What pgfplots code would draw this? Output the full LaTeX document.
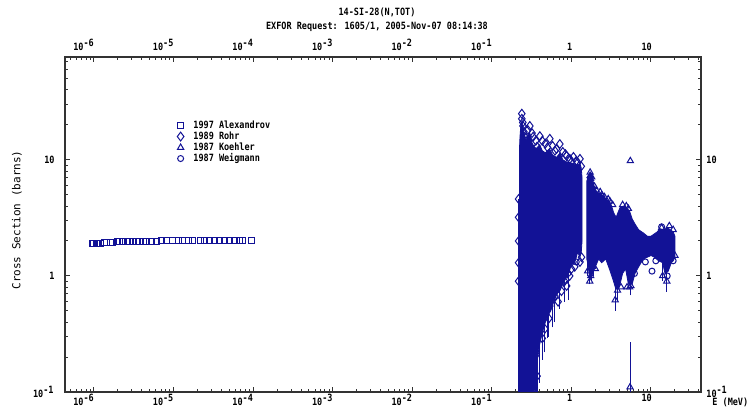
\documentclass[border=0pt]{standalone}
\usepackage{pgfplots}
\pgfplotsset{compat=1.18}
\usepackage{fontspec}
\setmainfont{DejaVu Sans Mono}
\newfontfamily\mono{DejaVu Sans Mono}[FakeStretch=0.85]
\newfontfamily\monoy{DejaVu Sans Mono}
\definecolor{exb}{RGB}{18,18,150}
\newcommand{\tf}{\fontsize{5}{6}\selectfont\mono\bfseries}

\begin{document}
\begin{tikzpicture}
\useasboundingbox (-32.5pt,-7.5pt) rectangle (343.5pt,196pt);
\begin{axis}[
  at={(0,0)}, anchor=south west, scale only axis,
  width=318pt, height=167.5pt,
  xmode=log, ymode=log,
  xmin=4.32e-7, xmax=42.5, ymin=0.1, ymax=77,
  xtick={1e-6,1e-5,1e-4,1e-3,1e-2,1e-1,1,10},
  xticklabels={10\textsuperscript{-6},10\textsuperscript{-5},10\textsuperscript{-4},10\textsuperscript{-3},10\textsuperscript{-2},10\textsuperscript{-1},1,10},
  ytick={0.1,1,10},
  yticklabels={10\textsuperscript{-1},1,10},
  tick label style={font=\tf},
  minor xtick={5e-7,6e-7,7e-7,8e-7,9e-7,
    2e-6,3e-6,4e-6,5e-6,6e-6,7e-6,8e-6,9e-6,
    2e-5,3e-5,4e-5,5e-5,6e-5,7e-5,8e-5,9e-5,
    2e-4,3e-4,4e-4,5e-4,6e-4,7e-4,8e-4,9e-4,
    2e-3,3e-3,4e-3,5e-3,6e-3,7e-3,8e-3,9e-3,
    2e-2,3e-2,4e-2,5e-2,6e-2,7e-2,8e-2,9e-2,
    0.2,0.3,0.4,0.5,0.6,0.7,0.8,0.9,
    2,3,4,5,6,7,8,9,20,30,40},
  minor ytick={0.2,0.3,0.4,0.5,0.6,0.7,0.8,0.9,2,3,4,5,6,7,8,9,20,30,40,50,60,70},
  major tick length=2.6pt, minor tick length=1.5pt,
  axis line style={black!80, line width=0.6pt},
  tick style={black!80, line width=0.5pt},
  xticklabel style={anchor=north east, inner sep=0pt, yshift=-1pt, xshift=0.6pt},
  yticklabel style={anchor=east, inner sep=0pt, xshift=-5pt},
  legend style={draw=none, fill=none, at={(0.176,0.813)}, anchor=north west,
    font=\tf, inner sep=0pt, column sep=4.5pt, row sep=0pt,
    nodes={text height=3.8pt, text depth=1.2pt, inner sep=0.25pt}},
  legend cell align=left,
]
% Rohr dense resonance region (envelope)
\addplot[fill=exb, draw=exb, line width=0.4pt, forget plot] coordinates {
(0.222,0.1) (0.222,12) (0.226,16) (0.232,20) (0.24,22) (0.25,18) (0.26,16) (0.27,14)
(0.28,16) (0.30,17) (0.32,14) (0.34,13) (0.36,12.5) (0.40,13.5) (0.43,12) (0.47,11.5)
(0.53,12.5) (0.58,11) (0.65,10.5) (0.72,11.5) (0.78,10) (0.87,9.6) (0.95,9.5) (1.05,9.3)
(1.15,9.0) (1.28,9.3) (1.33,8.5) (1.36,7)
(1.36,2.0) (1.33,1.6) (1.28,1.45) (1.2,1.6) (1.1,1.3) (1.0,1.25) (0.92,1.05) (0.85,0.95)
(0.78,0.85) (0.72,0.75) (0.66,0.7) (0.6,0.6) (0.55,0.5) (0.5,0.45) (0.46,0.38) (0.42,0.3)
(0.39,0.24) (0.37,0.18) (0.355,0.13) (0.345,0.1) (0.222,0.1)};
% Koehler / Weigmann dense region (envelope)
\addplot[fill=exb, draw=exb, line width=0.4pt, forget plot] coordinates {
(1.56,1.4) (1.56,6.5) (1.62,7.2) (1.72,7.8) (1.80,7.6) (1.86,6.3) (1.97,5.8) (2.1,5.2)
(2.28,5.2) (2.5,4.9) (2.75,4.6) (3.0,4.4) (3.2,4.0) (3.4,3.5) (3.65,3.2) (3.9,3.6)
(4.1,3.9) (4.5,4.0) (4.9,3.9) (5.4,3.6) (5.8,3.1) (6.3,2.8) (7.0,2.5) (8.0,2.35)
(9.0,2.2) (10,2.2) (11,2.3) (12,2.4) (13,2.55) (14.5,2.5) (16,2.6) (17.5,2.5) (19,2.4) (20,2.2)
(20,1.45) (19,1.35) (18,1.3) (16.5,1.1) (15,1.05) (14,1.3) (12.5,1.35) (11,1.45) (10,1.5)
(9,1.45) (8,1.4) (7,1.2) (6.3,1.05) (5.8,0.85) (5.2,0.85) (4.8,1.15) (4.4,1.05) (4.0,0.8)
(3.6,0.78) (3.3,0.95) (3.0,1.15) (2.7,1.4) (2.4,1.3) (2.2,1.4) (2.0,1.2) (1.85,1.05)
(1.7,0.95) (1.6,1.3) (1.56,1.4)};
% error bars
\addplot[exb, line width=0.5pt, unbounded coords=jump, forget plot] coordinates {
(0.217,0.1) (0.217,4.6) (0.217,nan)
(0.35,0.1) (0.35,0.2) (0.35,nan)
(0.36,0.1) (0.36,0.25) (0.36,nan)
(0.38,0.1) (0.38,0.22) (0.38,nan)
(0.40,0.12) (0.40,0.3) (0.40,nan)
(0.43,0.19) (0.43,0.4) (0.43,nan)
(0.46,0.22) (0.46,0.4) (0.46,nan)
(0.50,0.29) (0.50,0.5) (0.50,nan)
(0.52,0.3) (0.52,0.5) (0.52,nan)
(0.58,0.36) (0.58,0.6) (0.58,nan)
(0.62,0.4) (0.62,0.7) (0.62,nan)
(0.715,0.52) (0.715,0.8) (0.715,nan)
(0.83,0.6) (0.83,0.95) (0.83,nan)
(0.93,0.62) (0.93,1.1) (0.93,nan)
(1.6,1.0) (1.6,1.5) (1.6,nan)
(1.7,0.85) (1.7,1.3) (1.7,nan)
(1.8,0.9) (1.8,1.4) (1.8,nan)
(1.9,1.0) (1.9,1.5) (1.9,nan)
(3.55,0.5) (3.55,0.8) (3.55,nan)
(3.8,0.62) (3.8,0.9) (3.8,nan)
(5.45,0.1) (5.45,0.27) (5.45,nan)
(5.6,0.68) (5.6,0.95) (5.6,nan)
(14,0.9) (14,1.3) (14,nan)
(15.8,0.73) (15.8,1.1)};
% 1997 Alexandrov
\addplot[only marks, mark=square, mark size=1.5pt, color=exb, mark options={line width=0.5pt}] coordinates {
(0.944e-6,1.90) (1.0e-6,1.91) (1.06e-6,1.91) (1.12e-6,1.92) (1.22e-6,1.92) (1.34e-6,1.93)
(1.59e-6,1.96) (1.73e-6,1.96) (1.95e-6,1.97) (2.12e-6,1.97) (2.31e-6,1.97) (2.60e-6,1.98)
(2.83e-6,1.98) (3.09e-6,1.98) (3.47e-6,1.98) (3.78e-6,1.99) (4.13e-6,1.99) (4.63e-6,1.99)
(5.35e-6,1.99) (6.18e-6,1.99) (7.15e-6,2.0) (8.26e-6,2.0) (9.83e-6,2.0) (1.14e-5,2.0)
(1.31e-5,2.0) (1.52e-5,2.0) (1.75e-5,2.0) (2.15e-5,2.0) (2.48e-5,2.0) (2.87e-5,2.0)
(3.31e-5,2.0) (3.83e-5,2.0) (4.42e-5,2.0) (5.11e-5,2.0) (5.91e-5,2.0) (6.82e-5,2.0)
(7.45e-5,2.0) (9.66e-5,2.01)};
\addlegendentry{1997 Alexandrov}
% 1989 Rohr
\addplot[only marks, mark=diamond, mark size=2.2pt, color=exb, mark options={line width=0.5pt}] coordinates {
(0.238,25) (0.238,22.6) (0.246,19.6) (0.253,17.4) (0.26,15.8) (0.283,18.1) (0.30,19.6)
(0.33,15.8) (0.357,14.6) (0.401,16) (0.43,14.6) (0.47,13.8) (0.535,15.2) (0.58,13.2)
(0.65,12.4) (0.715,13.7) (0.78,11.7) (0.87,10.8) (0.955,10.2) (1.06,10.6) (1.15,9.8)
(1.28,10.2) (0.245,21) (0.27,14.5) (0.32,17) (0.37,13) (0.50,12.8) (0.62,12) (0.84,11.2)
(1.0,9.6) (1.2,9.5) (1.33,8.8)
(0.217,4.6) (0.217,3.2) (0.217,2.0) (0.217,1.3) (0.217,0.9)
(0.62,0.67) (0.535,0.55) (0.52,0.43) (0.463,0.35) (0.43,0.29) (0.36,0.21) (0.37,0.137)
(0.75,0.74) (0.87,0.82) (1.0,1.15) (1.28,1.32) (0.26,0.94) (0.68,0.6) (0.95,1.0)
(1.1,1.2) (1.34,1.45) (0.82,0.9)};
\addlegendentry{1989 Rohr}
% 1987 Koehler
\addplot[only marks, mark=triangle, mark size=1.8pt, color=exb, mark options={line width=0.5pt}] coordinates {
(1.72,7.8) (1.72,7.3) (1.74,6.9) (1.76,6.5) (1.80,7.1) (1.95,5.9) (2.05,5.5) (2.3,5.3)
(2.4,5.0) (2.6,4.8) (2.9,4.6) (3.05,4.4) (3.3,4.1) (4.4,4.1) (4.9,4.0) (5.2,3.8)
(5.5,9.8) (5.45,0.11) (3.55,0.62) (5.0,0.8) (5.6,0.82) (15.8,0.9) (13.6,2.6) (1.7,0.9)
(1.75,1.0) (2.0,1.15) (3.8,0.75) (4.2,0.8) (5.4,0.8) (1.6,1.1) (1.85,1.2) (14,1.0)
(17,2.7) (19,2.5) (20,1.5)};
\addlegendentry{1987 Koehler}
% 1987 Weigmann
\addplot[only marks, mark=o, mark size=1.5pt, color=exb, mark options={line width=0.5pt}] coordinates {
(1.15,1.32) (8.5,1.32) (10.3,1.1) (13.6,2.65) (19,1.35) (6.2,1.05) (16,1.0) (11.5,1.35) (0.9,1.05)};
\addlegendentry{1987 Weigmann}
\end{axis}
\begin{axis}[
  at={(0,0)}, anchor=south west, scale only axis,
  width=318pt, height=167.5pt,
  xmode=log, ymode=log,
  xmin=4.32e-7, xmax=42.5, ymin=0.1, ymax=77,
  xtick={1e-6,1e-5,1e-4,1e-3,1e-2,1e-1,1,10},
  xticklabels={10\textsuperscript{-6},10\textsuperscript{-5},10\textsuperscript{-4},10\textsuperscript{-3},10\textsuperscript{-2},10\textsuperscript{-1},1,10},
  ytick={0.1,1,10},
  yticklabels={10\textsuperscript{-1},1,10},
  tick label style={font=\tf},
  axis line style={draw=none}, tick style={draw=none},
  major tick length=0pt, minor tick length=0pt,
  xticklabel pos=right, yticklabel pos=right,
  xticklabel style={anchor=south east, inner sep=0pt, yshift=3pt, xshift=0.6pt},
  yticklabel style={anchor=west, inner sep=0pt, xshift=2.5pt},
]
\addplot[draw=none, forget plot] coordinates {(1,1) (2,2)};
\end{axis}
\node[font=\tf] at (156pt,190pt) {14-SI-28(N,TOT)};
\node[font=\tf] at (156pt,182.5pt) {EXFOR Request: 1605/1, 2005-Nov-07 08:14:38};
\node[font=\fontsize{5.5}{6}\selectfont\monoy, rotate=90] at (-24pt,86pt) {Cross Section (barns)};
\node[font=\tf, anchor=west, inner sep=0pt] at (323.5pt,-5pt) {E (MeV)};
\end{tikzpicture}
\end{document}
